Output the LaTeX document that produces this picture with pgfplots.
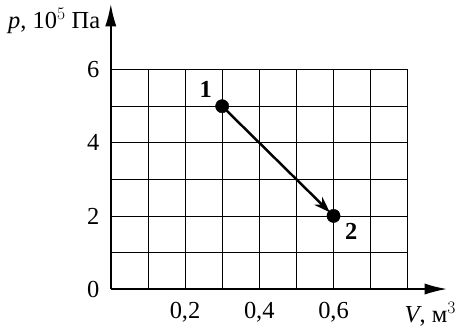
\documentclass[border=0pt]{standalone}
\usepackage{fontspec}
\setmainfont{Liberation Serif}
\usepackage{pgfplots}
\pgfplotsset{compat=1.18}
\usetikzlibrary{arrows.meta}
\begin{document}
\fontsize{24}{28}\selectfont
\begin{tikzpicture}
\begin{axis}[
    scale only axis,
    width=329bp, height=279bp,
    xmin=0, xmax=0.906, ymin=0, ymax=7.8,
    axis lines=left,
    axis line style={line width=1.8bp, -{Latex[length=22bp,width=11bp]}},
    xtick={0.2,0.4,0.6}, ytick={0,2,4,6},
    major tick length=0pt,
    xticklabel style={inner ysep=2bp, yshift=-11bp},
    yticklabel style={xshift=-3bp},
    /pgf/number format/use comma,
    /pgf/number format/assume math mode=true,
    xticklabel={\pgfmathprintnumber[fixed,precision=1,fixed zerofill]{\tick}},
    clip=false,
]
% grid
\pgfplotsinvokeforeach{1,...,6}{
  \draw[line width=0.8bp] (axis cs:0,#1) -- (axis cs:0.8,#1);
}
\pgfplotsinvokeforeach{1,...,8}{
  \draw[line width=0.8bp] (axis cs:#1/10,0) -- (axis cs:#1/10,6);
}
% process 1 -> 2
\addplot[line width=2.4bp, -{Stealth[length=16bp,width=11bp]}, shorten >=5bp]
  coordinates {(0.3,5) (0.6,2)};
\addplot[only marks, mark=*, mark size=6.5bp, black]
  coordinates {(0.3,5) (0.6,2)};
\node[font=\bfseries] at (axis cs:0.256,5.45) {1};
\node[font=\bfseries] at (axis cs:0.648,1.57) {2};
% axis labels
\node[anchor=east] at (axis cs:-0.006,7.33) {\textit{p}, 10$^{5}$ Па};
\node[anchor=base east, inner ysep=2bp] at (axis cs:0.952,-0.92) {\textit{V}, м$^{3}$};
\end{axis}
\end{tikzpicture}
\end{document}
